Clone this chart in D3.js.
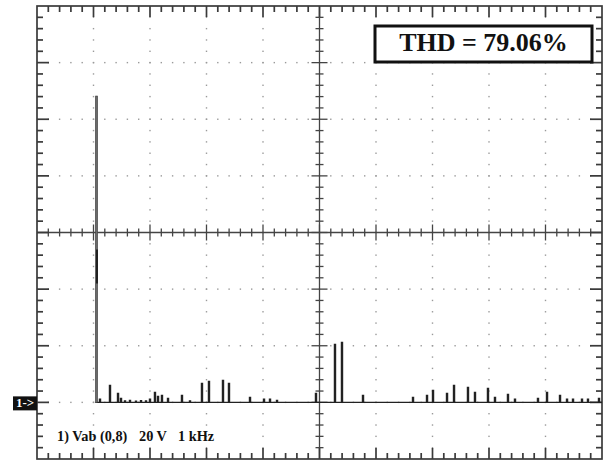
<!DOCTYPE html>
<html>
<head>
<meta charset="utf-8">
<script src="https://cdn.jsdelivr.net/npm/d3@7"></script>
<style>
  body { margin: 0; background: #fff; }
  svg { display: block; }
  .lbl { font-family: "Liberation Serif", "Times New Roman", serif; font-weight: bold; fill: #111; }
</style>
</head>
<body>
<div id="scope"></div>
<script>
// spectrum peaks: frequency (kHz) and amplitude (V)
const peakFreq = [1.053, 1.115, 1.292, 1.434, 1.487, 1.558, 1.646, 1.752, 1.841, 1.929, 2.000,
  2.088, 2.142, 2.212, 2.319, 2.566, 2.708, 2.920, 3.044, 3.292, 3.398, 3.770, 4.018, 4.124,
  4.248, 4.938, 5.274, 5.398, 5.770, 6.655, 6.903, 7.009, 7.257, 7.381, 7.628, 7.752, 7.982,
  8.106, 8.336, 8.460, 8.867, 9.027, 9.257, 9.381, 9.487, 9.646, 9.752, 9.947];
const peakVolt = [108.1, 1.1, 6.0, 3.2, 1.4, 0.5, 0.7, 0.4, 0.6, 0.5, 1.1,
  3.5, 2.1, 2.5, 1.4, 2.5, 0.5, 6.7, 7.4, 7.8, 6.7, 1.8, 1.1, 1.1,
  0.7, 3.2, 20.5, 21.2, 2.5, 1.8, 2.5, 4.2, 3.2, 6.0, 5.3, 3.5, 4.9,
  1.8, 2.8, 1.1, 1.4, 3.5, 2.5, 1.1, 1.1, 1.1, 1.1, 1.4];

const thdText = "THD = 79.06%";
const chLabel = ["1) Vab (0,8)", "20 V", "1 kHz"];

const svgWidth = 609;
const svgHeight = 461;

const svg = d3.select("#scope")
  .append("svg")
  .attr("width", svgWidth)
  .attr("height", svgHeight);

svg.append("rect").attr("width", svgWidth).attr("height", svgHeight).attr("fill", "#fff");

// 10 divisions of 1 kHz, 8 divisions of 20 V
const x = d3.scaleLinear().domain([0, 10]).range([37, 602]);
const y = d3.scaleLinear().domain([-20, 140]).range([459, 6]);

const xMinor = d3.range(0, 10.001, 0.2);
const yMinor = d3.range(-20, 140.001, 4);
const xMajor = d3.range(1, 10);
const yMajor = d3.range(0, 140, 20);
const isMajX = v => Math.abs(v - Math.round(v)) < 1e-6;
const isMajY = v => Math.abs(v / 20 - Math.round(v / 20)) < 1e-6;

// dotted grid
const grid = svg.append("g").attr("fill", "#9a9a9a");
xMajor.filter(v => v !== 5).forEach(gx => {
  grid.selectAll(null).data(yMinor.slice(1, -1)).enter().append("rect")
    .attr("x", x(gx) - 0.7).attr("y", d => y(d) - 0.7)
    .attr("width", 1.4).attr("height", 1.4);
});
yMajor.filter(v => v !== 60).forEach(gy => {
  grid.selectAll(null).data(xMinor.slice(1, -1)).enter().append("rect")
    .attr("x", d => x(d) - 0.7).attr("y", y(gy) - 0.7)
    .attr("width", 1.4).attr("height", 1.4);
});

// centre cross with ticks
const cross = svg.append("g").attr("stroke", "#444").attr("stroke-width", 1.3);
cross.append("line").attr("x1", x(0)).attr("x2", x(10)).attr("y1", y(60)).attr("y2", y(60));
cross.append("line").attr("x1", x(5)).attr("x2", x(5)).attr("y1", y(-20)).attr("y2", y(140));
cross.selectAll(null).data(xMinor.slice(1, -1)).enter().append("line")
  .attr("x1", d => x(d)).attr("x2", d => x(d))
  .attr("y1", d => y(60) - (isMajX(d) ? 8 : 4))
  .attr("y2", d => y(60) + (isMajX(d) ? 8 : 4));
cross.selectAll(null).data(yMinor.slice(1, -1)).enter().append("line")
  .attr("y1", d => y(d)).attr("y2", d => y(d))
  .attr("x1", d => x(5) - (isMajY(d) ? 8 : 4))
  .attr("x2", d => x(5) + (isMajY(d) ? 8 : 4));

// frame and edge ticks
const frame = svg.append("g").attr("stroke", "#3a3a3a").attr("stroke-width", 1.7);
frame.append("rect")
  .attr("x", x(0)).attr("y", y(140))
  .attr("width", x(10) - x(0)).attr("height", y(-20) - y(140))
  .attr("fill", "none");
frame.selectAll(null).data(xMinor.slice(1, -1)).enter().append("line")
  .attr("x1", d => x(d)).attr("x2", d => x(d))
  .attr("y1", y(140)).attr("y2", d => y(140) + (isMajX(d) ? 11 : 6));
frame.selectAll(null).data(xMinor.slice(1, -1)).enter().append("line")
  .attr("x1", d => x(d)).attr("x2", d => x(d))
  .attr("y1", y(-20)).attr("y2", d => y(-20) - (isMajX(d) ? 11 : 6));
frame.selectAll(null).data(yMinor.slice(1, -1)).enter().append("line")
  .attr("y1", d => y(d)).attr("y2", d => y(d))
  .attr("x1", x(0)).attr("x2", d => x(0) + (isMajY(d) ? 12 : 6));
frame.selectAll(null).data(yMinor.slice(1, -1)).enter().append("line")
  .attr("y1", d => y(d)).attr("y2", d => y(d))
  .attr("x1", x(10)).attr("x2", d => x(10) - (isMajY(d) ? 12 : 6));

// spectrum trace
const half = 0.01;
const pts = [[1.03, 0]];
peakFreq.forEach((f, i) => {
  pts.push([f - half, 0], [f - half, peakVolt[i]], [f + half, peakVolt[i]], [f + half, 0]);
});
pts.push([10, 0]);

const line = d3.line().x(d => x(d[0])).y(d => y(d[1]));
svg.append("path")
  .datum(pts)
  .attr("d", line)
  .attr("fill", "none")
  .attr("stroke", "#222")
  .attr("stroke-width", 1.3);

// fundamental drawn heavier, as on the screen
svg.append("line")
  .attr("x1", x(peakFreq[0])).attr("x2", x(peakFreq[0]))
  .attr("y1", y(0)).attr("y2", y(peakVolt[0]))
  .attr("stroke", "#6a6a6a").attr("stroke-width", 2);
svg.append("line")
  .attr("x1", x(peakFreq[0]) + 0.5).attr("x2", x(peakFreq[0]) + 0.5)
  .attr("y1", y(54)).attr("y2", y(42))
  .attr("stroke", "#111").attr("stroke-width", 1.6);

// channel marker
svg.append("rect").attr("x", 13).attr("y", y(0) - 6).attr("width", 24).attr("height", 14).attr("fill", "#111");
svg.append("text").attr("class", "lbl")
  .attr("x", 25).attr("y", y(0) + 5)
  .attr("text-anchor", "middle")
  .style("font-size", "13px").style("fill", "#fff")
  .text("1->");

// THD box
svg.append("rect")
  .attr("x", 375).attr("y", 26).attr("width", 217).attr("height", 36)
  .attr("fill", "#fff").attr("stroke", "#111").attr("stroke-width", 3);
svg.append("text").attr("class", "lbl")
  .attr("x", 483.5).attr("y", 51)
  .attr("text-anchor", "middle")
  .style("font-size", "26px")
  .text(thdText);

// channel readout
const labelX = [57, 139, 178];
chLabel.forEach((t, i) => {
  svg.append("text").attr("class", "lbl")
    .attr("x", labelX[i]).attr("y", 441)
    .style("font-size", "14.3px")
    .text(t);
});
</script>
</body>
</html>
